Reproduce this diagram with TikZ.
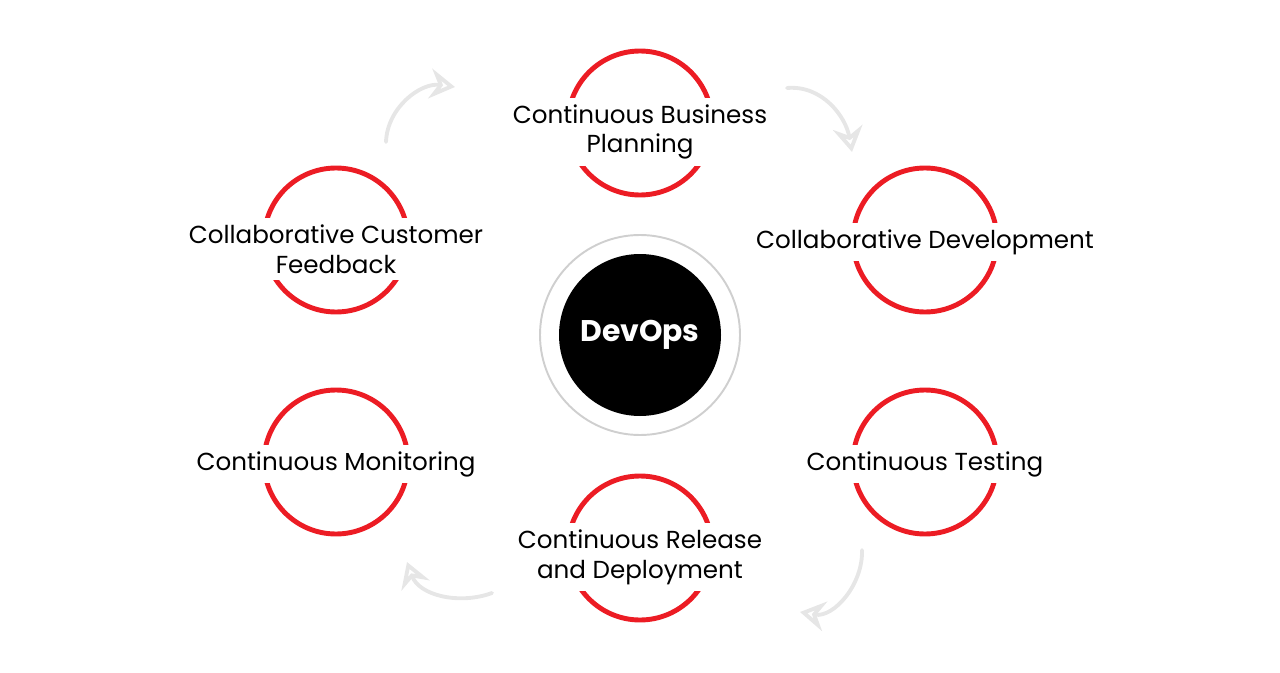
\documentclass[tikz,border=0pt]{standalone}
\usepackage{fontspec}
\setmainfont{Poppins}
\usetikzlibrary{arrows.meta}
\definecolor{devred}{HTML}{EC1C24}
\definecolor{flowgray}{HTML}{E6E6E6}
\definecolor{halogray}{HTML}{CFCFCF}
\begin{document}
\begin{tikzpicture}[font=\fontsize{14}{17}\selectfont,line join=round,line cap=round,
	ring/.style={circle,draw=devred,line width=2.8pt,minimum size=2.88cm,inner sep=0pt},
	lbl/.style={fill=white,align=center,inner xsep=1pt,inner ysep=0.13cm,yshift=-0.04cm},
	lbltwo/.style={lbl,yshift=-0.14cm},
	flow/.style={flowgray,line width=2.2pt,-{Stealth[open,length=0.5cm,width=0.6cm,inset=0.17cm]}}]
	\useasboundingbox (0,0) rectangle (25.6,13.44);
	\node[ring] (plan) at (12.8,10.98) {};
	\node[ring] (dev) at (18.5,8.64) {};
	\node[ring] (test) at (18.5,4.2) {};
	\node[ring] (release) at (12.8,2.48) {};
	\node[ring] (monitor) at (6.72,4.2) {};
	\node[ring] (feedback) at (6.72,8.64) {};
	\node[lbltwo] (plantxt) at (plan) {Continuous Business\\Planning};
	\node[lbl] (devtxt) at (dev) {Collaborative Development};
	\node[lbl] (testtxt) at (test) {Continuous Testing};
	\node[lbltwo] (releasetxt) at (release) {Continuous Release\\and Deployment};
	\node[lbl] (monitortxt) at (monitor) {Continuous Monitoring};
	\node[lbltwo] (feedbacktxt) at (feedback) {Collaborative Customer\\Feedback};
	\node[circle,draw=halogray,line width=1.1pt,minimum size=4cm] (halo) at (12.8,6.74) {};
	\node[circle,fill=black,text=white,minimum size=3.24cm,font=\fontsize{17}{20}\selectfont\bfseries] (devops) at (halo) {DevOps};
	\coordinate (f1) at (7.72,10.6); \coordinate (f2) at (9.1,11.7);
	\coordinate (f3) at (15.74,11.68); \coordinate (f4) at (17.04,10.4);
	\coordinate (f5) at (17.24,2.44); \coordinate (f6) at (16.0,1.2);
	\coordinate (f7) at (9.84,1.58); \coordinate (f8) at (8.14,2.2);
	\draw[flow] (f1) to[out=88,in=172] (f2);
	\draw[flow] (f3) to[out=5,in=100] (f4);
	\draw[flow] (f5) to[out=-88,in=-10] (f6);
	\draw[flow] (f7) to[out=200,in=-70] (f8);
\end{tikzpicture}
\end{document}
